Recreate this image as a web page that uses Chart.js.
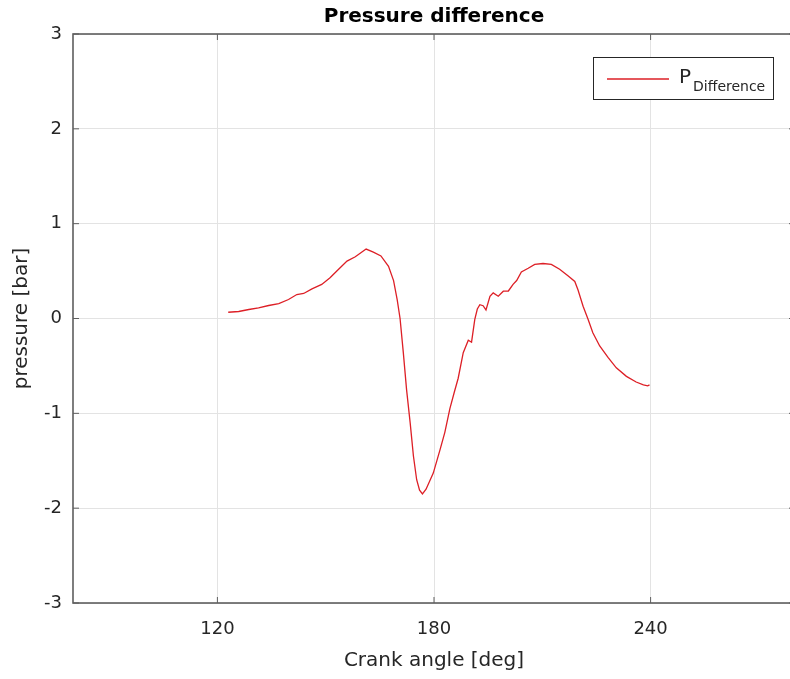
<!DOCTYPE html>
<html>
<head>
<meta charset="utf-8">
<script src="https://cdn.jsdelivr.net/npm/chart.js@4.4.1/dist/chart.umd.min.js"></script>
<style>
  html, body { margin: 0; padding: 0; background: #fff; overflow: hidden; }
  #wrap { width: 800px; height: 679px; }
</style>
</head>
<body>
<div id="wrap"><canvas id="pressureChart" width="800" height="679"></canvas></div>
<script>
// Values
const crankAngle = [
  123.0, 125.9, 128.7, 131.4, 134.2, 137.0, 139.7, 142.0, 143.9, 146.2,
  148.9, 151.2, 153.5, 155.9, 158.2, 161.2, 163.2, 165.3, 167.4, 168.8,
  169.8, 170.6, 171.5, 172.4, 173.4, 174.3, 175.2, 176.0, 176.8, 177.8,
  179.8, 181.7, 183.0, 184.4, 185.6, 186.7, 188.1, 189.5, 190.4, 191.3,
  192.0, 192.7, 193.6, 194.4, 195.5, 196.4, 197.8, 199.2, 200.6, 201.9,
  202.9, 204.2, 206.1, 207.9, 210.2, 212.5, 214.8, 217.1, 219.0, 219.9,
  221.3, 222.7, 224.0, 225.9, 228.2, 230.5, 233.3, 236.0, 238.0, 239.2,
  239.7
];
const pressureDiff = [
  0.066, 0.074, 0.095, 0.113, 0.137, 0.158, 0.20, 0.253, 0.264, 0.313,
  0.359, 0.429, 0.517, 0.605, 0.651, 0.732, 0.70, 0.66, 0.55, 0.40,
  0.20, 0.0, -0.36, -0.75, -1.10, -1.45, -1.70, -1.81, -1.85, -1.80,
  -1.63, -1.38, -1.20, -0.95, -0.78, -0.63, -0.36, -0.23, -0.25, -0.01,
  0.10, 0.145, 0.135, 0.09, 0.235, 0.27, 0.235, 0.288, 0.29, 0.36,
  0.40, 0.49, 0.53, 0.57, 0.58, 0.57, 0.52, 0.45, 0.39, 0.30,
  0.13, -0.01, -0.15, -0.29, -0.41, -0.52, -0.61, -0.67, -0.70, -0.71,
  -0.70
];
const xTicks = [120, 180, 240];
const yTicks = [-3, -2, -1, 0, 1, 2, 3];
const xLimits = [80, 280];
const yLimits = [-3, 3];

const fontFamily = "'DejaVu Sans', sans-serif";
const textColor = '#262626';
const boxColor = '#5e5e5e';
const gridColor = '#e3e3e3';
const lineColor = '#dd1f26';

Chart.defaults.font.family = fontFamily;

// Draws the axes box, inward tick marks and the legend (with subscript)
const matlabFrame = {
  id: 'matlabFrame',
  afterDatasetsDraw(chart) {
    const { ctx, chartArea: a, scales: { x, y } } = chart;
    ctx.save();
    ctx.strokeStyle = boxColor;
    ctx.lineWidth = 1.6;
    ctx.strokeRect(a.left, a.top, a.right - a.left, a.bottom - a.top);

    ctx.lineWidth = 1;
    ctx.beginPath();
    xTicks.forEach(v => {
      const px = x.getPixelForValue(v);
      ctx.moveTo(px, a.bottom); ctx.lineTo(px, a.bottom - 6);
      ctx.moveTo(px, a.top); ctx.lineTo(px, a.top + 6);
    });
    yTicks.forEach(v => {
      const py = y.getPixelForValue(v);
      ctx.moveTo(a.left, py); ctx.lineTo(a.left + 6, py);
      ctx.moveTo(a.right, py); ctx.lineTo(a.right - 6, py);
    });
    ctx.stroke();

    // legend box
    const lx = a.right - 202, ly = a.top + 23, lw = 180, lh = 42;
    ctx.fillStyle = '#fff';
    ctx.fillRect(lx, ly, lw, lh);
    ctx.strokeStyle = textColor;
    ctx.lineWidth = 1;
    ctx.strokeRect(lx + 0.5, ly + 0.5, lw, lh);

    ctx.strokeStyle = lineColor;
    ctx.lineWidth = 1.3;
    ctx.beginPath();
    ctx.moveTo(lx + 14, ly + 22);
    ctx.lineTo(lx + 76, ly + 22);
    ctx.stroke();

    ctx.fillStyle = textColor;
    ctx.textBaseline = 'alphabetic';
    ctx.textAlign = 'left';
    ctx.font = '20px ' + fontFamily;
    const px = lx + 86;
    ctx.fillText('P', px, ly + 26);
    const pw = ctx.measureText('P').width;
    ctx.font = '14px ' + fontFamily;
    ctx.fillText('Difference', px + pw + 2, ly + 34);
    ctx.restore();
  }
};

const points = crankAngle.map((v, i) => ({ x: v, y: pressureDiff[i] }));

const pressureChart = new Chart(document.getElementById('pressureChart'), {
  type: 'line',
  data: {
    datasets: [{
      label: 'P Difference',
      data: points,
      borderColor: lineColor,
      borderWidth: 1.3,
      tension: 0,
      pointRadius: 0,
      fill: false
    }]
  },
  options: {
    responsive: false,
    animation: false,
    layout: { padding: { left: 0, right: 5, top: 0, bottom: 0 } },
    plugins: {
      legend: { display: false },
      tooltip: { enabled: false },
      title: {
        display: true,
        text: 'Pressure difference',
        fullSize: false,
        color: '#000',
        font: { size: 20, weight: 'bold' },
        padding: { top: 5, bottom: 5 }
      }
    },
    scales: {
      x: {
        type: 'linear',
        min: xLimits[0],
        max: xLimits[1],
        afterBuildTicks: s => { s.ticks = xTicks.map(v => ({ value: v })); },
        afterFit: s => { s.height = 76; },
        grid: { color: gridColor, drawTicks: false },
        border: { display: false },
        ticks: { color: textColor, font: { size: 18 }, padding: 16, maxRotation: 0 },
        title: {
          display: true,
          text: 'Crank angle [deg]',
          color: textColor,
          font: { size: 20 },
          padding: { top: 0, bottom: 6 }
        }
      },
      y: {
        min: yLimits[0],
        max: yLimits[1],
        afterBuildTicks: s => { s.ticks = yTicks.map(v => ({ value: v })); },
        afterFit: s => { s.width = 73; },
        grid: { color: gridColor, drawTicks: false },
        border: { display: false },
        ticks: { color: textColor, font: { size: 18 }, padding: 11, callback: v => String(v) },
        title: {
          display: true,
          text: 'pressure [bar]',
          color: textColor,
          font: { size: 20 },
          padding: { top: 10, bottom: 0 }
        }
      }
    }
  },
  plugins: [matlabFrame]
});
</script>
</body>
</html>
